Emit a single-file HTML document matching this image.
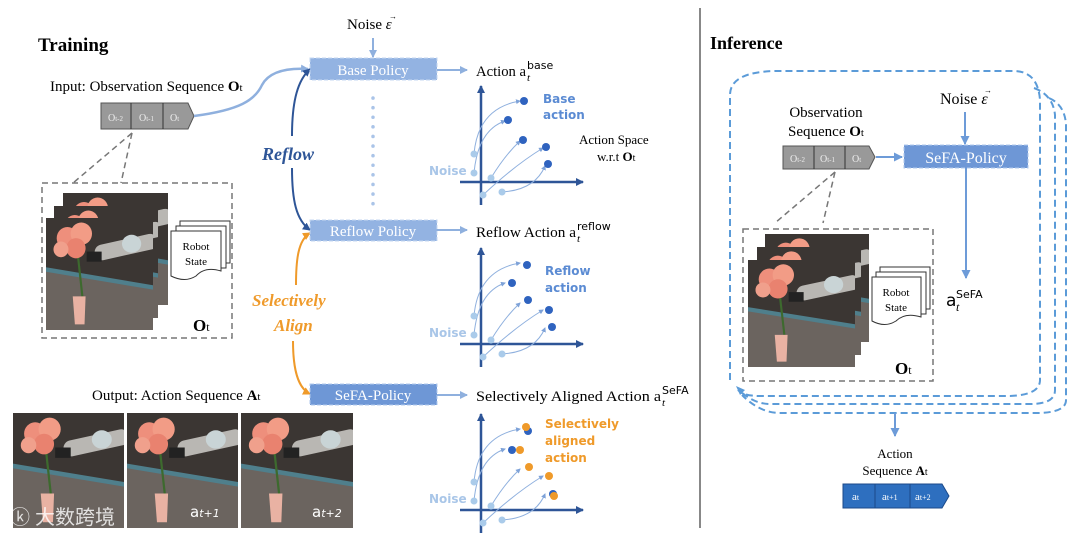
<!DOCTYPE html>
<html><head><meta charset="utf-8"><style>
body{margin:0;background:#fff}
svg{display:block}
text{font-family:"Liberation Serif",serif}
.s{font-family:"DejaVu Sans","Liberation Sans",sans-serif}
</style></head><body>
<svg width="1080" height="533" viewBox="0 0 1080 533" xmlns="http://www.w3.org/2000/svg">
<defs>
<symbol id="ph" viewBox="0 0 100 100" preserveAspectRatio="none">
<rect width="100" height="100" fill="#3b3633"/>
<path d="M0 45 L100 62 L100 100 L0 100Z" fill="#6b645f"/>
<path d="M0 44 L100 60 L100 64 L0 48Z" fill="#4f7f8c"/>
<rect x="45" y="20" width="60" height="14" rx="7" fill="#b9b7b3" transform="rotate(-12 70 27)"/>
<ellipse cx="80" cy="23" rx="9" ry="8" fill="#c9d4d6"/>
<rect x="38" y="30" width="14" height="9" fill="#222"/>
<path d="M30 35 L34 70" stroke="#3d6a2e" stroke-width="2"/>
<circle cx="20" cy="18" r="10" fill="#ee8f7c"/><circle cx="33" cy="14" r="10" fill="#f29c86"/><circle cx="28" cy="27" r="9" fill="#e9826f"/><circle cx="14" cy="28" r="7" fill="#f0a08c"/>
<path d="M25 70 L37 70 L36 95 L27 95Z" fill="#e9b2a3"/>
</symbol>
<marker id="ab" markerWidth="8" markerHeight="8" refX="7" refY="4" orient="auto" markerUnits="userSpaceOnUse"><path d="M0 0 L8 4 L0 8Z" fill="#8fb0de"/></marker>
<marker id="ad" markerWidth="8" markerHeight="8" refX="7" refY="4" orient="auto" markerUnits="userSpaceOnUse"><path d="M0 0 L8 4 L0 8Z" fill="#2e5597"/></marker>
<marker id="ao" markerWidth="8" markerHeight="8" refX="7" refY="4" orient="auto" markerUnits="userSpaceOnUse"><path d="M0 0 L8 4 L0 8Z" fill="#ef9a2a"/></marker>
<marker id="am" markerWidth="9" markerHeight="9" refX="8" refY="4.5" orient="auto" markerUnits="userSpaceOnUse"><path d="M0 0 L9 4.5 L0 9Z" fill="#6d9bd8"/></marker>
<marker id="sm" markerWidth="5" markerHeight="5" refX="4" refY="2.5" orient="auto" markerUnits="userSpaceOnUse"><path d="M0 0 L5 2.5 L0 5Z" fill="#7ea2d8"/></marker>
<g id="plot">
<line x1="481" y1="205" x2="481" y2="86" stroke="#2e5597" stroke-width="2.5" marker-end="url(#ad)"/>
<line x1="460" y1="182" x2="583" y2="182" stroke="#2e5597" stroke-width="2.5" marker-end="url(#ad)"/>
<g fill="none" stroke="#8fb0de" stroke-width="1">
<path d="M474 154 Q478 108 520 101" marker-end="url(#sm)"/>
<path d="M474 173 Q478 130 505 121" marker-end="url(#sm)"/>
<path d="M491 178 Q505 155 520 141" marker-end="url(#sm)"/>
<path d="M483 195 Q515 165 543 148" marker-end="url(#sm)"/>
<path d="M502 192 Q535 190 545 166" marker-end="url(#sm)"/>
</g>
<g fill="#aacbea"><circle cx="474" cy="154" r="3.5"/><circle cx="474" cy="173" r="3.5"/><circle cx="491" cy="178" r="3.5"/><circle cx="483" cy="195" r="3.5"/><circle cx="502" cy="192" r="3.5"/></g>
<text x="429" y="175" class="s" font-size="12" fill="#a9c6e8" font-weight="bold">Noise</text>
</g>
</defs>

<line x1="700" y1="8" x2="700" y2="528" stroke="#888" stroke-width="2"/>

<!-- Training -->
<text x="38" y="51" font-size="19" font-weight="bold">Training</text>
<text x="50" y="91" font-size="15">Input: Observation Sequence <tspan font-weight="bold">O</tspan><tspan font-size="11">t</tspan></text>
<path d="M101 103 L188 103 L194 116 L188 129 L101 129Z" fill="#999" stroke="#555"/>
<line x1="131" y1="103" x2="131" y2="129" stroke="#333"/><line x1="163" y1="103" x2="163" y2="129" stroke="#333"/>
<text x="108" y="121" font-size="10" fill="#eee">O<tspan font-size="7">t-2</tspan></text>
<text x="139" y="121" font-size="10" fill="#eee">O<tspan font-size="7">t-1</tspan></text>
<text x="170" y="121" font-size="10" fill="#eee">O<tspan font-size="7">t</tspan></text>
<path d="M194 116 C240 110 255 100 262 85 C270 70 290 68 308 69" fill="none" stroke="#8fb0de" stroke-width="2.5" marker-end="url(#ab)"/>
<g stroke="#777" stroke-width="1.5" stroke-dasharray="6,4" fill="none">
<path d="M132 133 L73 183"/><path d="M132 133 L121 183"/>
<rect x="42" y="183" width="190" height="155"/>
</g>
<use href="#ph" x="63" y="193" width="105" height="112"/>
<use href="#ph" x="54" y="206" width="104" height="112"/>
<use href="#ph" x="46" y="218" width="107" height="112"/>
<g fill="#fff" stroke="#333"><rect x="180" y="221" width="50" height="42"/><rect x="176" y="226" width="50" height="42"/><path d="M171 231 L221 231 L221 271 Q205 266 196 276 Q185 283 171 276Z"/></g>
<text x="196" y="250" font-size="11" text-anchor="middle">Robot</text><text x="196" y="265" font-size="11" text-anchor="middle">State</text>
<text x="193" y="331" font-size="17" font-weight="bold">O<tspan font-size="12" font-weight="normal">t</tspan></text>

<text x="92" y="400" font-size="15">Output: Action Sequence <tspan font-weight="bold">A</tspan><tspan font-size="11">t</tspan></text>
<use href="#ph" x="13" y="413" width="111" height="115"/>
<use href="#ph" x="127" y="413" width="111" height="115"/>
<use href="#ph" x="241" y="413" width="112" height="115"/>
<text x="190" y="517" font-size="15" fill="#fff" class="s">a<tspan font-style="italic" font-size="11">t+1</tspan></text>
<text x="312" y="517" font-size="15" fill="#fff" class="s">a<tspan font-style="italic" font-size="11">t+2</tspan></text>
<text x="10" y="524" font-size="20" fill="#fff" opacity="0.8" font-family="Noto Sans CJK SC,sans-serif">&#x24DA; 大数跨境</text>

<!-- Reflow arrows -->
<path d="M292 136 C292 100 298 80 310 69" fill="none" stroke="#2e5597" stroke-width="2" marker-end="url(#ad)"/>
<path d="M292 168 C292 200 296 220 310 230" fill="none" stroke="#2e5597" stroke-width="2" marker-end="url(#ad)"/>
<text x="262" y="160" font-size="18" font-weight="bold" font-style="italic" fill="#2e5597">Reflow</text>
<path d="M296 285 C296 260 298 240 310 233" fill="none" stroke="#ef9a2a" stroke-width="2" marker-end="url(#ao)"/>
<path d="M293 341 C293 370 298 388 310 394" fill="none" stroke="#ef9a2a" stroke-width="2" marker-end="url(#ao)"/>
<text x="252" y="306" font-size="17" font-weight="bold" font-style="italic" fill="#ef9a2a">Selectively</text>
<text x="274" y="331" font-size="17" font-weight="bold" font-style="italic" fill="#ef9a2a">Align</text>

<!-- Policies -->
<text x="347" y="29" font-size="15">Noise <tspan font-style="italic">ε</tspan></text>
<text x="389" y="19" font-size="8">→</text>
<line x1="373" y1="38" x2="373" y2="57" stroke="#8fb0de" stroke-width="2" marker-end="url(#ab)"/>
<g fill="#93b3e2" stroke="#c5d7f0" stroke-dasharray="4,2"><rect x="310" y="58" width="127" height="22"/><rect x="310" y="220" width="127" height="21"/></g>
<rect x="310" y="384" width="127" height="21" fill="#6e97d6" stroke="#b0c8ec" stroke-dasharray="4,2"/>
<text x="373" y="75" font-size="15" fill="#fff" text-anchor="middle">Base Policy</text>
<text x="373" y="236" font-size="15" fill="#fff" text-anchor="middle">Reflow Policy</text>
<text x="373" y="400" font-size="15" fill="#fff" text-anchor="middle">SeFA-Policy</text>
<line x1="373" y1="98" x2="373" y2="204" stroke="#aac4e8" stroke-width="3.5" stroke-dasharray="0.1,9.5" stroke-linecap="round"/>
<g stroke="#8fb0de" stroke-width="2" marker-end="url(#ab)"><line x1="437" y1="70" x2="467" y2="70"/><line x1="437" y1="230" x2="467" y2="230"/><line x1="437" y1="395" x2="467" y2="395"/></g>
<text x="476" y="76" font-size="15" textLength="50" lengthAdjust="spacingAndGlyphs">Action a</text>
<text x="527" y="69" font-size="11" class="s">base</text><text x="527" y="81" font-size="11" font-style="italic">t</text>
<text x="476" y="237" font-size="15" textLength="100" lengthAdjust="spacingAndGlyphs">Reflow Action a</text>
<text x="577" y="230" font-size="11" class="s">reflow</text><text x="577" y="242" font-size="11" font-style="italic">t</text>
<text x="476" y="401" font-size="15" textLength="185" lengthAdjust="spacingAndGlyphs">Selectively Aligned Action a</text>
<text x="662" y="394" font-size="11" class="s">SeFA</text><text x="662" y="406" font-size="11" font-style="italic">t</text>

<use href="#plot"/>
<g fill="#2f63bf"><circle cx="524" cy="101" r="4"/><circle cx="508" cy="120" r="4"/><circle cx="523" cy="140" r="4"/><circle cx="546" cy="147" r="4"/><circle cx="548" cy="164" r="4"/></g>
<text x="543" y="103" class="s" font-size="12" font-weight="bold" fill="#5b8bd3">Base</text>
<text x="543" y="119" class="s" font-size="12" font-weight="bold" fill="#5b8bd3">action</text>
<text x="579" y="144" font-size="13">Action Space</text>
<text x="597" y="161" font-size="13">w.r.t <tspan font-weight="bold">O</tspan><tspan font-size="10">t</tspan></text>

<use href="#plot" y="162"/>
<g fill="#2f63bf"><circle cx="527" cy="265" r="4"/><circle cx="512" cy="283" r="4"/><circle cx="528" cy="300" r="4"/><circle cx="549" cy="310" r="4"/><circle cx="552" cy="327" r="4"/></g>
<text x="545" y="275" class="s" font-size="12" font-weight="bold" fill="#5b8bd3">Reflow</text>
<text x="545" y="292" class="s" font-size="12" font-weight="bold" fill="#5b8bd3">action</text>

<use href="#plot" y="328"/>
<g fill="#2f63bf"><circle cx="528" cy="431" r="4"/><circle cx="512" cy="450" r="4"/><circle cx="553" cy="494" r="4"/></g>
<g fill="#ef9a2a"><circle cx="526" cy="427" r="4"/><circle cx="520" cy="450" r="4"/><circle cx="529" cy="467" r="4"/><circle cx="549" cy="476" r="4"/><circle cx="554" cy="496" r="4"/></g>
<text x="545" y="428" class="s" font-size="12" font-weight="bold" fill="#ef9a2a">Selectively</text>
<text x="545" y="445" class="s" font-size="12" font-weight="bold" fill="#ef9a2a">aligned</text>
<text x="545" y="462" class="s" font-size="12" font-weight="bold" fill="#ef9a2a">action</text>

<!-- Inference -->
<text x="710" y="49" font-size="18" font-weight="bold">Inference</text>
<g fill="none" stroke="#5b9bd8" stroke-width="2" stroke-dasharray="7,4">
<path d="M730 380 L730 95 Q730 72 775 71 L1015 71 Q1038 72 1040 100 L1040 380 Q1040 395 1010 396 L760 396 Q743 396 738 390"/>
<path d="M1034 88 Q1053 95 1055 115 L1055 390 Q1055 404 1030 404 L770 404 Q755 404 741 392"/>
<path d="M1049 98 Q1065 105 1066 125 L1066 400 Q1066 412 1040 413 L780 413 Q760 413 742 395"/>
</g>
<path d="M736 386 L745 390 L740 395Z" fill="#5b9bd8"/>
<line x1="895" y1="413" x2="895" y2="436" stroke="#6d9bd8" stroke-width="2" marker-end="url(#am)"/>
<text x="940" y="104" font-size="16">Noise <tspan font-style="italic">ε</tspan></text>
<text x="984" y="93" font-size="8">→</text>
<line x1="965" y1="112" x2="965" y2="144" stroke="#6d9bd8" stroke-width="2" marker-end="url(#am)"/>
<text x="826" y="117" font-size="15" text-anchor="middle">Observation</text>
<text x="826" y="136" font-size="15" text-anchor="middle">Sequence <tspan font-weight="bold">O</tspan><tspan font-size="11">t</tspan></text>
<path d="M783 146 L869 146 L875 157 L869 169 L783 169Z" fill="#999" stroke="#555"/>
<line x1="814" y1="146" x2="814" y2="169" stroke="#333"/><line x1="845" y1="146" x2="845" y2="169" stroke="#333"/>
<text x="790" y="162" font-size="10" fill="#eee">O<tspan font-size="7">t-2</tspan></text>
<text x="820" y="162" font-size="10" fill="#eee">O<tspan font-size="7">t-1</tspan></text>
<text x="852" y="162" font-size="10" fill="#eee">O<tspan font-size="7">t</tspan></text>
<line x1="876" y1="157" x2="902" y2="157" stroke="#6d9bd8" stroke-width="2" marker-end="url(#am)"/>
<rect x="904" y="145" width="124" height="23" fill="#6e97d6" stroke="#b0c8ec" stroke-dasharray="4,2"/>
<text x="966" y="163" font-size="16" fill="#fff" text-anchor="middle">SeFA-Policy</text>
<line x1="966" y1="168" x2="966" y2="278" stroke="#6d9bd8" stroke-width="2" marker-end="url(#am)"/>
<text x="946" y="306" font-size="17" class="s">a</text>
<text x="956" y="298" font-size="11" class="s">SeFA</text>
<text x="956" y="311" font-size="12" font-style="italic">t</text>
<g stroke="#777" stroke-width="1.5" stroke-dasharray="6,4" fill="none">
<path d="M835 172 L775 223"/><path d="M835 172 L823 223"/>
<rect x="743" y="229" width="190" height="152"/>
</g>
<use href="#ph" x="765" y="234" width="104" height="108"/>
<use href="#ph" x="757" y="247" width="104" height="108"/>
<use href="#ph" x="748" y="260" width="107" height="107"/>
<g fill="#fff" stroke="#333"><rect x="880" y="267" width="50" height="42"/><rect x="876" y="272" width="50" height="42"/><path d="M872 277 L921 277 L921 317 Q905 312 896 321 Q885 328 872 321Z"/></g>
<text x="896" y="296" font-size="11" text-anchor="middle">Robot</text><text x="896" y="311" font-size="11" text-anchor="middle">State</text>
<text x="895" y="374" font-size="17" font-weight="bold">O<tspan font-size="12" font-weight="normal">t</tspan></text>
<text x="895" y="458" font-size="13" text-anchor="middle">Action</text>
<text x="895" y="475" font-size="13" text-anchor="middle">Sequence <tspan font-weight="bold">A</tspan><tspan font-size="10">t</tspan></text>
<path d="M843 484 L942 484 L949 496 L942 508 L843 508Z" fill="#2e6fbf" stroke="#1c4a8a"/>
<line x1="875" y1="484" x2="875" y2="508" stroke="#1c4a8a"/><line x1="910" y1="484" x2="910" y2="508" stroke="#1c4a8a"/>
<text x="852" y="500" font-size="11" fill="#fff">a<tspan font-size="8">t</tspan></text>
<text x="882" y="500" font-size="11" fill="#fff">a<tspan font-size="8">t+1</tspan></text>
<text x="915" y="500" font-size="11" fill="#fff">a<tspan font-size="8">t+2</tspan></text>
</svg>
</body></html>
